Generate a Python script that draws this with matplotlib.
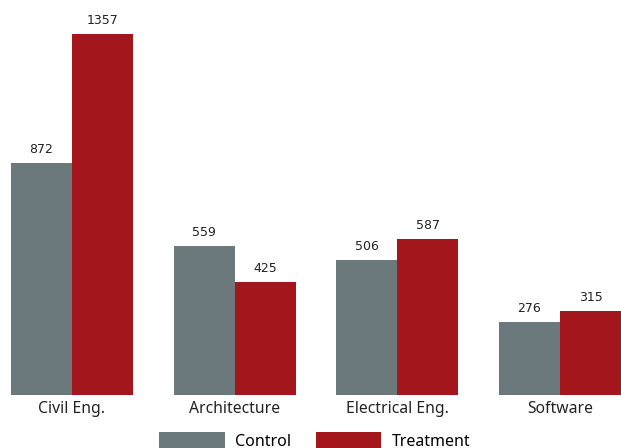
import matplotlib
matplotlib.use("Agg")
import matplotlib.pyplot as plt
import numpy as np

categories = ["Civil Eng.", "Architecture", "Electrical Eng.", "Software"]
control = [872, 559, 506, 276]
treatment = [1357, 425, 587, 315]
series_names = ["Control", "Treatment"]

grey = "#6b797c"
red = "#a3171c"

fig = plt.figure(figsize=(6.21, 4.48), dpi=100)
ax = fig.add_axes([11 / 621, 1 - 395 / 448, 610 / 621, 395 / 448])

x = np.arange(len(categories))
w = 0.375
b1 = ax.bar(x - w / 2, control, width=w, color=grey, label=series_names[0])
b2 = ax.bar(x + w / 2, treatment, width=w, color=red, label=series_names[1])

for bars, vals in ((b1, control), (b2, treatment)):
    for rect, v in zip(bars, vals):
        ax.annotate(str(v), (rect.get_x() + rect.get_width() / 2, rect.get_height()),
                    xytext=(0, 5), textcoords="offset points", ha="center", va="bottom",
                    fontsize=9, color="#222222", family="DejaVu Sans")

ax.set_xlim(-0.375, 3.375)
ax.set_ylim(0, 1485)
ax.set_xticks(x)
ax.set_xticklabels(categories, family="Noto Sans", fontsize=11.3, color="#222222")
ax.tick_params(axis="x", length=0, pad=4.5)
ax.set_yticks([])
for s in ax.spines.values():
    s.set_visible(False)

fig.legend(handles=[b1, b2], labels=series_names, loc="upper center",
           bbox_to_anchor=(0.507, 1 - 426 / 448), ncol=2, frameon=False,
           prop={"family": "Noto Sans", "size": 11.5}, handlelength=4.1,
           handleheight=1.3, columnspacing=1.55, handletextpad=0.65, borderaxespad=0)

fig.savefig("out.png", dpi=100)
